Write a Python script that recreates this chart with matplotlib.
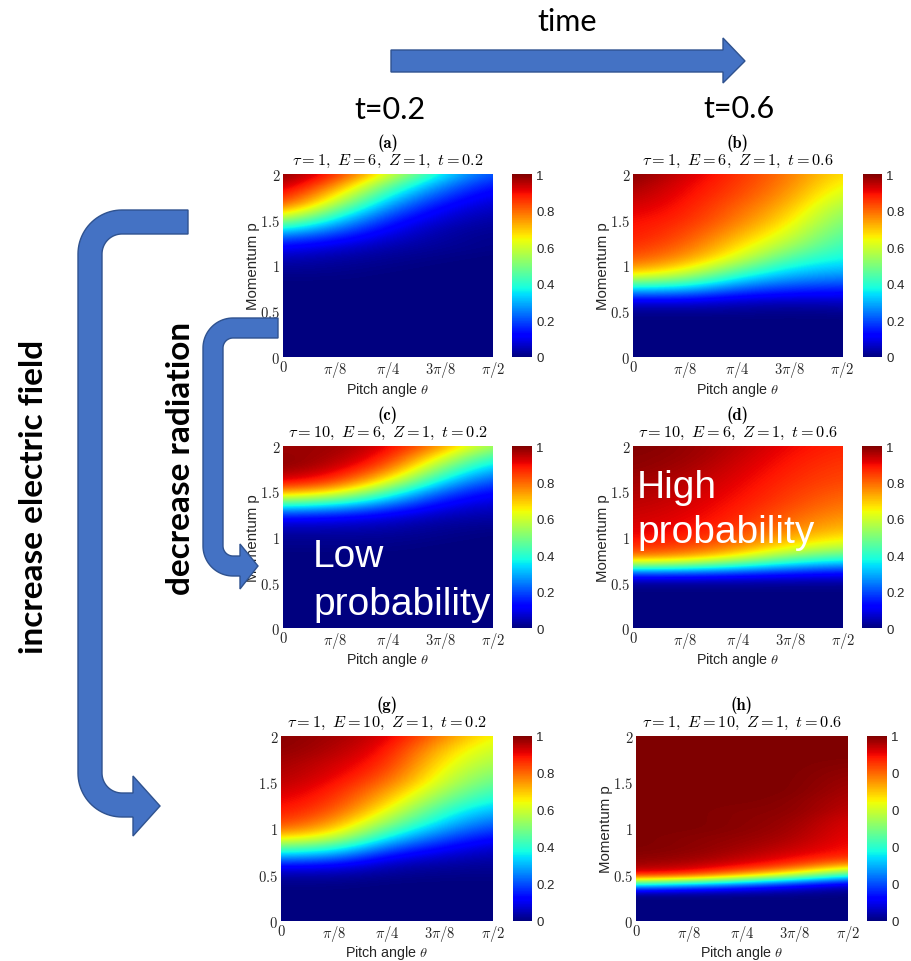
import numpy as np
import matplotlib
matplotlib.use("Agg")
import matplotlib.pyplot as plt
from matplotlib.path import Path
from matplotlib.patches import PathPatch

plt.rcParams["mathtext.fontset"] = "cm"

# ---------------------------------------------------------------------------
# Data: normalised distribution sampled on a (p, theta) grid.
# Rows run from p = 2.0 (top) down to p = 0.0, columns are the pitch angles.
# ---------------------------------------------------------------------------
P_SAMPLES = [2.0, 1.9, 1.8, 1.7, 1.6, 1.5, 1.4, 1.3, 1.2, 1.1, 1.0,
             0.9, 0.8, 0.7, 0.6, 0.5, 0.4, 0.3, 0.2, 0.1, 0.0]
THETA_SAMPLES = [0.0, np.pi / 8, np.pi / 4, 3 * np.pi / 8, np.pi / 2]

THETA_TICKS = [0.0, np.pi / 8, np.pi / 4, 3 * np.pi / 8, np.pi / 2]
THETA_TICK_LABELS = [r"$0$", r"$\pi/8$", r"$\pi/4$", r"$3\pi/8$", r"$\pi/2$"]
P_TICKS = [0, 0.5, 1, 1.5, 2]
P_TICK_LABELS = [r"$0$", r"$0.5$", r"$1$", r"$1.5$", r"$2$"]
CBAR_TICKS = [0, 0.2, 0.4, 0.6, 0.8, 1]
CBAR_LABELS = ["0", "0.2", "0.4", "0.6", "0.8", "1"]
CBAR_LABELS_ROUNDED = ["0", "0", "0", "0", "0", "1"]

PANEL_IDS = ["a", "b", "c", "d", "g", "h"]
PANEL_TAU = [1, 1, 10, 10, 1, 1]
PANEL_E = [6, 6, 6, 6, 10, 10]
PANEL_Z = [1, 1, 1, 1, 1, 1]
PANEL_T = [0.2, 0.6, 0.2, 0.6, 0.2, 0.6]

DIST_A = [
    [1.00, 0.88, 0.62, 0.36, 0.19],
    [0.97, 0.80, 0.50, 0.28, 0.14],
    [0.92, 0.70, 0.40, 0.21, 0.10],
    [0.86, 0.60, 0.31, 0.15, 0.07],
    [0.74, 0.47, 0.23, 0.10, 0.05],
    [0.56, 0.35, 0.16, 0.07, 0.03],
    [0.38, 0.24, 0.11, 0.04, 0.02],
    [0.22, 0.15, 0.07, 0.03, 0.01],
    [0.12, 0.08, 0.04, 0.02, 0.01],
    [0.06, 0.04, 0.02, 0.01, 0.00],
    [0.03, 0.02, 0.01, 0.00, 0.00],
    [0.01, 0.01, 0.00, 0.00, 0.00],
    [0.00, 0.00, 0.00, 0.00, 0.00],
    [0.00, 0.00, 0.00, 0.00, 0.00],
    [0.00, 0.00, 0.00, 0.00, 0.00],
    [0.00, 0.00, 0.00, 0.00, 0.00],
    [0.00, 0.00, 0.00, 0.00, 0.00],
    [0.00, 0.00, 0.00, 0.00, 0.00],
    [0.00, 0.00, 0.00, 0.00, 0.00],
    [0.00, 0.00, 0.00, 0.00, 0.00],
    [0.00, 0.00, 0.00, 0.00, 0.00],
]

DIST_B = [
    [1.00, 0.93, 0.86, 0.78, 0.66],
    [0.98, 0.91, 0.85, 0.77, 0.63],
    [0.96, 0.90, 0.84, 0.75, 0.60],
    [0.94, 0.89, 0.82, 0.73, 0.56],
    [0.92, 0.88, 0.80, 0.70, 0.52],
    [0.90, 0.87, 0.78, 0.67, 0.49],
    [0.89, 0.85, 0.75, 0.63, 0.46],
    [0.88, 0.83, 0.71, 0.59, 0.43],
    [0.86, 0.80, 0.67, 0.53, 0.40],
    [0.83, 0.76, 0.62, 0.45, 0.37],
    [0.77, 0.69, 0.52, 0.37, 0.33],
    [0.66, 0.58, 0.40, 0.30, 0.27],
    [0.45, 0.42, 0.28, 0.22, 0.20],
    [0.25, 0.24, 0.16, 0.13, 0.12],
    [0.08, 0.09, 0.06, 0.05, 0.06],
    [0.02, 0.02, 0.02, 0.01, 0.02],
    [0.00, 0.00, 0.00, 0.00, 0.00],
    [0.00, 0.00, 0.00, 0.00, 0.00],
    [0.00, 0.00, 0.00, 0.00, 0.00],
    [0.00, 0.00, 0.00, 0.00, 0.00],
    [0.00, 0.00, 0.00, 0.00, 0.00],
]

DIST_C = [
    [0.97, 0.98, 0.92, 0.76, 0.52],
    [0.98, 0.97, 0.89, 0.66, 0.42],
    [0.99, 0.95, 0.84, 0.55, 0.33],
    [0.96, 0.91, 0.75, 0.44, 0.25],
    [0.90, 0.84, 0.62, 0.33, 0.18],
    [0.75, 0.68, 0.45, 0.22, 0.12],
    [0.52, 0.46, 0.30, 0.14, 0.08],
    [0.28, 0.25, 0.17, 0.08, 0.05],
    [0.12, 0.11, 0.08, 0.04, 0.03],
    [0.05, 0.05, 0.04, 0.02, 0.01],
    [0.02, 0.02, 0.02, 0.01, 0.00],
    [0.01, 0.01, 0.01, 0.00, 0.00],
    [0.00, 0.00, 0.00, 0.00, 0.00],
    [0.00, 0.00, 0.00, 0.00, 0.00],
    [0.00, 0.00, 0.00, 0.00, 0.00],
    [0.00, 0.00, 0.00, 0.00, 0.00],
    [0.00, 0.00, 0.00, 0.00, 0.00],
    [0.00, 0.00, 0.00, 0.00, 0.00],
    [0.00, 0.00, 0.00, 0.00, 0.00],
    [0.00, 0.00, 0.00, 0.00, 0.00],
    [0.00, 0.00, 0.00, 0.00, 0.00],
]

DIST_D = [
    [1.00, 0.98, 0.95, 0.90, 0.87],
    [0.99, 0.98, 0.94, 0.89, 0.86],
    [0.99, 0.97, 0.93, 0.88, 0.85],
    [0.98, 0.96, 0.92, 0.87, 0.84],
    [0.97, 0.95, 0.91, 0.86, 0.83],
    [0.96, 0.94, 0.90, 0.85, 0.81],
    [0.95, 0.93, 0.89, 0.84, 0.79],
    [0.94, 0.92, 0.88, 0.82, 0.77],
    [0.93, 0.91, 0.87, 0.80, 0.74],
    [0.92, 0.90, 0.85, 0.77, 0.71],
    [0.90, 0.88, 0.82, 0.72, 0.66],
    [0.87, 0.84, 0.77, 0.65, 0.58],
    [0.79, 0.76, 0.66, 0.52, 0.45],
    [0.55, 0.52, 0.44, 0.34, 0.29],
    [0.20, 0.20, 0.17, 0.14, 0.12],
    [0.03, 0.03, 0.03, 0.03, 0.03],
    [0.00, 0.00, 0.00, 0.00, 0.00],
    [0.00, 0.00, 0.00, 0.00, 0.00],
    [0.00, 0.00, 0.00, 0.00, 0.00],
    [0.00, 0.00, 0.00, 0.00, 0.00],
    [0.00, 0.00, 0.00, 0.00, 0.00],
]

DIST_G = [
    [0.99, 0.97, 0.93, 0.78, 0.63],
    [0.99, 0.96, 0.91, 0.73, 0.60],
    [0.98, 0.95, 0.89, 0.69, 0.57],
    [0.97, 0.93, 0.87, 0.66, 0.54],
    [0.96, 0.92, 0.84, 0.63, 0.50],
    [0.95, 0.90, 0.80, 0.60, 0.46],
    [0.93, 0.88, 0.75, 0.55, 0.41],
    [0.91, 0.86, 0.70, 0.49, 0.36],
    [0.89, 0.83, 0.64, 0.42, 0.30],
    [0.86, 0.78, 0.56, 0.36, 0.24],
    [0.80, 0.71, 0.46, 0.29, 0.18],
    [0.67, 0.60, 0.35, 0.21, 0.12],
    [0.48, 0.43, 0.23, 0.13, 0.07],
    [0.30, 0.27, 0.12, 0.07, 0.04],
    [0.13, 0.12, 0.05, 0.03, 0.02],
    [0.04, 0.04, 0.02, 0.01, 0.01],
    [0.01, 0.01, 0.00, 0.00, 0.00],
    [0.00, 0.00, 0.00, 0.00, 0.00],
    [0.00, 0.00, 0.00, 0.00, 0.00],
    [0.00, 0.00, 0.00, 0.00, 0.00],
    [0.00, 0.00, 0.00, 0.00, 0.00],
]

DIST_H = [
    [1.00, 1.00, 1.00, 1.00, 1.00],
    [1.00, 1.00, 1.00, 1.00, 1.00],
    [1.00, 1.00, 1.00, 1.00, 1.00],
    [1.00, 1.00, 1.00, 1.00, 0.99],
    [1.00, 1.00, 1.00, 1.00, 0.98],
    [1.00, 1.00, 1.00, 1.00, 0.97],
    [1.00, 1.00, 1.00, 1.00, 0.96],
    [1.00, 1.00, 1.00, 0.99, 0.95],
    [1.00, 1.00, 0.99, 0.99, 0.94],
    [1.00, 1.00, 0.99, 0.98, 0.92],
    [1.00, 1.00, 0.99, 0.97, 0.91],
    [1.00, 0.99, 0.98, 0.96, 0.90],
    [1.00, 0.99, 0.97, 0.94, 0.89],
    [0.99, 0.98, 0.95, 0.91, 0.87],
    [0.97, 0.95, 0.91, 0.85, 0.72],
    [0.90, 0.87, 0.75, 0.60, 0.40],
    [0.40, 0.33, 0.25, 0.15, 0.08],
    [0.01, 0.01, 0.01, 0.01, 0.00],
    [0.00, 0.00, 0.00, 0.00, 0.00],
    [0.00, 0.00, 0.00, 0.00, 0.00],
    [0.00, 0.00, 0.00, 0.00, 0.00],
]

DISTRIBUTIONS = [DIST_A, DIST_B, DIST_C, DIST_D, DIST_G, DIST_H]

# ---------------------------------------------------------------------------
# Layout (pixel boxes: left, top, right, bottom)
# ---------------------------------------------------------------------------
W, H = 911, 962
AXES_BOXES = [
    (283, 175, 493, 358), (633, 175, 842, 358),
    (283, 447, 493, 629), (633, 447, 843, 629),
    (281, 737, 493, 922), (636, 737, 848, 922),
]
CBAR_BOXES = [
    (512, 175, 532, 358), (863, 175, 882, 358),
    (512, 447, 532, 629), (862, 447, 882, 629),
    (513, 737, 532, 922), (867, 737, 887, 922),
]
SHOW_YLABEL = [True, True, True, True, False, True]
XLABEL_OFFSET = [32, 32, 31, 31, 31, 31]

TEXT_GRAY = "#262626"
ARROW_FACE = "#4472C4"
ARROW_EDGE = "#2F528F"
SANS = "Liberation Sans"

fig = plt.figure(figsize=(W / 100, H / 100), dpi=100)


def px_axes(box, **kw):
    x0, y0, x1, y1 = box
    return fig.add_axes([x0 / W, 1 - y1 / H, (x1 - x0) / W, (y1 - y0) / H], **kw)


PT = 72 / 100  # points per pixel at 100 dpi

dth = THETA_SAMPLES[1] - THETA_SAMPLES[0]
dp = P_SAMPLES[0] - P_SAMPLES[1]
extent = [THETA_SAMPLES[0] - dth / 2, THETA_SAMPLES[-1] + dth / 2,
          P_SAMPLES[-1] - dp / 2, P_SAMPLES[0] + dp / 2]

for i, pid in enumerate(PANEL_IDS):
    ax = px_axes(AXES_BOXES[i])
    im = ax.imshow(np.array(DISTRIBUTIONS[i]), cmap="jet", vmin=0, vmax=1,
                   extent=extent, origin="upper", aspect="auto",
                   interpolation="bicubic", interpolation_stage="data")
    ax.set_xlim(0, np.pi / 2)
    ax.set_ylim(0, 2)
    ax.set_xticks(THETA_TICKS, THETA_TICK_LABELS)
    ax.set_yticks(P_TICKS, P_TICK_LABELS)
    ax.tick_params(length=0, labelsize=10.5, labelcolor=TEXT_GRAY)
    ax.tick_params(axis="y", pad=2)
    ax.tick_params(axis="x", pad=1.5)
    for s in ax.spines.values():
        s.set_visible(False)

    title = rf"$\tau={PANEL_TAU[i]},\ E={PANEL_E[i]},\ Z={PANEL_Z[i]},\ t={PANEL_T[i]}$"
    ax.annotate(title, xy=(0.5, 1), xycoords="axes fraction",
                xytext=(0, 13.5 * PT), textcoords="offset points",
                ha="center", va="center", fontsize=11.7, color="black")
    ax.annotate(f"({pid})", xy=(0.5, 1), xycoords="axes fraction",
                xytext=(0, 32 * PT), textcoords="offset points",
                ha="center", va="center", fontsize=12, color="black",
                family="cmb10")
    ax.annotate(r"Pitch angle $\theta$", xy=(0.5, 0), xycoords="axes fraction",
                xytext=(0, -XLABEL_OFFSET[i] * PT), textcoords="offset points",
                ha="center", va="center", fontsize=10.3, color=TEXT_GRAY,
                family=SANS)
    if SHOW_YLABEL[i]:
        ax.annotate("Momentum p", xy=(0, 0.5), xycoords="axes fraction",
                    xytext=(-30 * PT, 0), textcoords="offset points",
                    ha="center", va="center", rotation=90, fontsize=10.8,
                    color=TEXT_GRAY, family=SANS)

    cax = px_axes(CBAR_BOXES[i])
    cb = fig.colorbar(im, cax=cax)
    cb.set_ticks(CBAR_TICKS)
    cb.set_ticklabels(CBAR_LABELS_ROUNDED if pid == "h" else CBAR_LABELS)
    cb.outline.set_visible(False)
    cax.tick_params(length=0, pad=3, labelsize=9.5, labelcolor=TEXT_GRAY)
    for lab in cax.get_yticklabels():
        lab.set_family(SANS)

# ---------------------------------------------------------------------------
# Annotation layer in pixel coordinates
# ---------------------------------------------------------------------------
ov = fig.add_axes([0, 0, 1, 1], zorder=10)
ov.set_xlim(0, W)
ov.set_ylim(H, 0)
ov.axis("off")
ov.patch.set_alpha(0)


def arc(cx, cy, r, a0, a1, n=24):
    a = np.radians(np.linspace(a0, a1, n))
    return list(zip(cx + r * np.cos(a), cy + r * np.sin(a)))


def block(points):
    verts = points + [points[0]]
    codes = [Path.MOVETO] + [Path.LINETO] * (len(points) - 1) + [Path.CLOSEPOLY]
    ov.add_patch(PathPatch(Path(verts, codes), fc=ARROW_FACE, ec=ARROW_EDGE, lw=1.0))


# time arrow
block([(391, 51), (723, 51), (723, 39), (745, 62), (723, 84), (723, 73), (391, 73)])

# electric-field arrow (long hook on the left)
pts = [(188, 211), (122, 211)]
pts += arc(122, 255, 44, -90, -180)
pts += [(78, 774)]
pts += arc(122, 774, 44, 180, 90)
pts += [(133, 818), (133, 837), (160, 807), (133, 777), (133, 794), (122, 794)]
pts += arc(122, 774, 20, 90, 180)
pts += [(102, 255)]
pts += arc(122, 255, 20, 180, 270)
pts += [(188, 235)]
block(pts)

# radiation arrow (short hook)
pts = [(278, 319), (233, 319)]
pts += arc(233, 349, 30, -90, -180)
pts += [(203, 547)]
pts += arc(233, 547, 30, 180, 90)
pts += [(240, 577), (240, 590), (258, 567), (240, 545), (240, 557), (233, 557)]
pts += arc(233, 547, 10, 90, 180)
pts += [(223, 349)]
pts += arc(233, 349, 10, 180, 270)
pts += [(278, 339)]
block(pts)

ov.text(567, 22, "time", ha="center", va="center", fontsize=22, family="Lato")
ov.text(390, 110, "t=0.2", ha="center", va="center", fontsize=22, family="Lato")
ov.text(739, 109, "t=0.6", ha="center", va="center", fontsize=22, family="Lato")
ov.text(181, 458, "decrease radiation", ha="center", va="center", rotation=90,
        fontsize=24, family="Lato", fontweight="bold")
ov.text(33.5, 497, "increase electric field", ha="center", va="center",
        rotation=90, fontsize=24, family="Lato", fontweight="bold")

ov.text(313, 567, "Low", ha="left", va="baseline", fontsize=28, color="white",
        family=SANS)
ov.text(313, 615, "probability", ha="left", va="baseline", fontsize=28,
        color="white", family=SANS)
ov.text(637, 498, "High", ha="left", va="baseline", fontsize=28, color="white",
        family=SANS)
ov.text(637, 543, "probability", ha="left", va="baseline", fontsize=28,
        color="white", family=SANS)

fig.savefig("out.png", dpi=100)
